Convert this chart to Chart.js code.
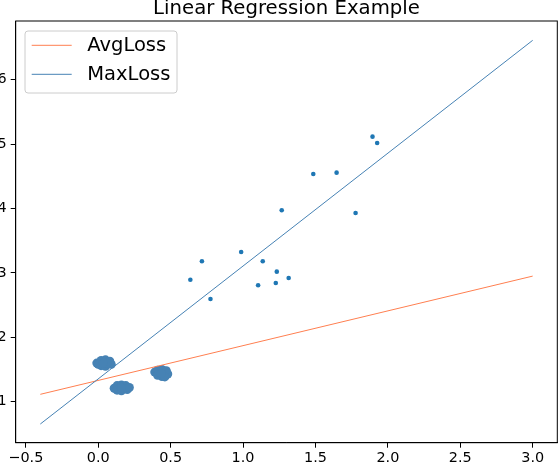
<!DOCTYPE html>
<html>
<head>
<meta charset="utf-8">
<script src="https://cdn.jsdelivr.net/npm/chart.js@4/dist/chart.umd.min.js"></script>
<style>
html,body{margin:0;padding:0;background:#fff;}
#wrap{width:558px;height:462px;position:relative;}
</style>
</head>
<body>
<div id="wrap"><canvas id="c"></canvas></div>
<script>
const titleText = "Linear Regression Example";
const xTicks = [-0.5, 0.0, 0.5, 1.0, 1.5, 2.0, 2.5, 3.0];
const yTicks = [1, 2, 3, 4, 5, 6];

const lineX = [-0.4, 3.0];
const avgLossY = [1.115, 2.95];
const maxLossY = [0.654, 6.61];

const scatterX = [0.636, 0.716, 0.775, 0.987, 1.136, 1.104, 1.233, 1.226, 1.315, 1.267, 1.485, 1.646, 1.777, 1.894, 1.926];
const scatterY = [2.894, 3.18, 2.595, 3.325, 3.18, 2.807, 3.019, 2.843, 2.921, 3.972, 4.536, 4.556, 3.93, 5.115, 5.017];

const clusterX = [-0.01, 0.02, 0.02, 0.05, 0.05, 0.08, 0.09, 0.06, 0.0, 0.035,
                  0.11, 0.13, 0.13, 0.16, 0.16, 0.19, 0.20, 0.215, 0.16,
                  0.39, 0.41, 0.41, 0.44, 0.44, 0.47, 0.48, 0.46, 0.435];
const clusterY = [1.60, 1.64, 1.56, 1.65, 1.55, 1.63, 1.58, 1.60, 1.58, 1.60,
                  1.21, 1.25, 1.18, 1.26, 1.17, 1.25, 1.19, 1.22, 1.215,
                  1.46, 1.49, 1.41, 1.50, 1.39, 1.48, 1.43, 1.385, 1.44];

const xMin = -0.57, xMax = 3.17, yMin = 0.364, yMax = 6.91;

const FONT = "'DejaVu Sans', sans-serif";
const zip = (xs, ys) => xs.map((x, i) => ({x: x, y: ys[i]}));
const fmtX = v => v.toFixed(1).replace('-', '\u2212');

const boxAndLegend = {
  id: 'boxAndLegend',
  afterDraw(chart) {
    const ctx = chart.ctx, a = chart.chartArea;
    ctx.save();
    ctx.strokeStyle = '#000';
    ctx.lineWidth = 1;
    ctx.strokeRect(a.left, a.top, a.right - a.left, a.bottom - a.top);
    ctx.fillStyle = '#000';
    ctx.font = "19.7px " + FONT;
    ctx.textAlign = 'center';
    ctx.textBaseline = 'alphabetic';
    ctx.fillText(titleText, (a.left + a.right) / 2, a.top - 7.3);
    const items = chart.data.datasets.filter(d => d.inLegend);
    const lx = a.left + 9.3, ly = a.top + 10, lw = 152, lh = 62;
    ctx.fillStyle = 'rgba(255,255,255,0.8)';
    ctx.strokeStyle = '#cccccc';
    ctx.beginPath();
    if (ctx.roundRect) ctx.roundRect(lx, ly, lw, lh, 3); else ctx.rect(lx, ly, lw, lh);
    ctx.fill();
    ctx.stroke();
    ctx.font = "19.5px " + FONT;
    ctx.textAlign = 'left';
    ctx.textBaseline = 'middle';
    items.forEach((d, i) => {
      const y = ly + 14.3 + i * 29;
      ctx.strokeStyle = d.borderColor;
      ctx.lineWidth = 1;
      ctx.beginPath();
      ctx.moveTo(lx + 6.7, y);
      ctx.lineTo(lx + 46.7, y);
      ctx.stroke();
      ctx.fillStyle = '#000';
      ctx.fillText(d.label, lx + 62.3, y + 1);
    });
    ctx.restore();
  }
};

new Chart(document.getElementById('c'), {
  type: 'scatter',
  data: {
    datasets: [
      {label: 'AvgLoss', inLegend: true, type: 'line', data: zip(lineX, avgLossY),
       borderColor: '#ff7f50', borderWidth: 1, pointRadius: 0, fill: false, order: 1},
      {label: 'MaxLoss', inLegend: true, type: 'line', data: zip(lineX, maxLossY),
       borderColor: '#4682b4', borderWidth: 1, pointRadius: 0, fill: false, order: 0},
      {label: 'clusters', data: zip(clusterX, clusterY), pointRadius: 4.5,
       backgroundColor: '#4682b4', borderWidth: 0, order: 3},
      {label: 'points', data: zip(scatterX, scatterY), pointRadius: 2.3,
       backgroundColor: '#1f77b4', borderWidth: 0, order: 2}
    ]
  },
  options: {
    responsive: true,
    maintainAspectRatio: false,
    animation: false,
    events: [],
    layout: {autoPadding: false, padding: {top: 21, right: 0.7, left: 0, bottom: 0}},
    plugins: {legend: {display: false}, title: {display: false}, tooltip: {enabled: false}},
    scales: {
      x: {
        type: 'linear', min: xMin, max: xMax,
        afterBuildTicks: s => { s.ticks = xTicks.map(v => ({value: v})); },
        afterFit: s => { s.height = 19.3; s.paddingLeft = 0; s.paddingRight = 0; },
        ticks: {callback: v => fmtX(v), color: '#000', font: {family: FONT, size: 14.4}, padding: 2, maxRotation: 0, autoSkip: false},
        grid: {drawOnChartArea: false, drawTicks: true, tickLength: 5, color: '#000'},
        border: {display: true, color: '#000', width: 1}
      },
      y: {
        type: 'linear', min: yMin, max: yMax,
        afterBuildTicks: s => { s.ticks = yTicks.map(v => ({value: v})); },
        afterFit: s => { s.width = 15.7; s.paddingTop = 0; s.paddingBottom = 0; },
        ticks: {callback: v => String(v), color: '#000', font: {family: FONT, size: 14.4}, padding: 4, autoSkip: false},
        grid: {drawOnChartArea: false, drawTicks: true, tickLength: 5, color: '#000'},
        border: {display: true, color: '#000', width: 1}
      }
    }
  },
  plugins: [boxAndLegend]
});
</script>
</body>
</html>
